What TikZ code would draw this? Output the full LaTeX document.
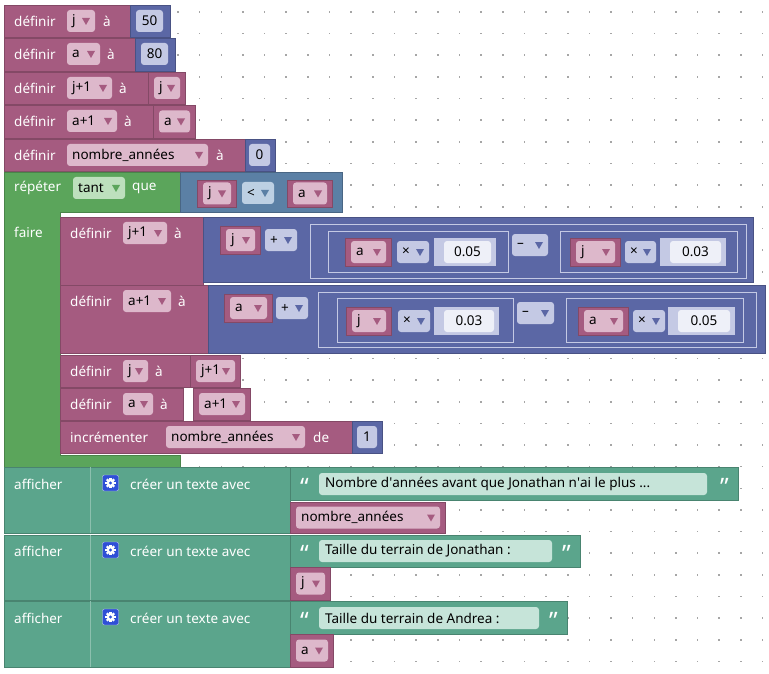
\documentclass[tikz,border=0pt]{standalone}
\usepackage{fontspec}
\setmainfont{Noto Sans}
\definecolor{pinkB}{HTML}{A55B80}
\definecolor{pinkF}{HTML}{DDB8CB}
\definecolor{mathB}{HTML}{5B67A5}
\definecolor{mathF}{HTML}{C4C9E4}
\definecolor{numW}{HTML}{EEF0F8}
\definecolor{logB}{HTML}{5B80A5}
\definecolor{logF}{HTML}{BDD0E3}
\definecolor{grnB}{HTML}{5BA55B}
\definecolor{grnF}{HTML}{BDE0BD}
\definecolor{txtB}{HTML}{5BA58C}
\definecolor{txtF}{HTML}{C6E4D9}
\definecolor{gear}{HTML}{2F4FD6}
\tikzset{
 blk/.style={fill=#1, draw=#1!80!black, line width=0.6pt},
 fld/.style={fill=#1, rounded corners=3pt},
 wt/.style={text=white, anchor=west, font=\fontsize{13.5}{15}\selectfont, inner sep=0pt},
 bt/.style={text=black, anchor=west, font=\fontsize{13.5}{15}\selectfont, inner sep=0pt},
 qt/.style={text=white, anchor=west, font=\fontsize{24}{24}\bfseries\selectfont, inner sep=0pt},
}
\newcommand\tri[3]{\fill[#1] (#2-4,#3-3)--(#2+4,#3-3)--(#2,#3+4)--cycle;}
\newcommand\dd[7]{\fill[fld=#1] (#3,#5-11) rectangle (#4,#5+11);
 \node[bt] (#7) at (#3+5,#5) {#6}; \tri{#2}{#4-9}{#5}}
\newcommand\pf[6]{\fill[fld=#1] (#2,#4-11) rectangle (#3,#4+11);
 \node[bt,anchor=center] (#6) at ({(#2+#3)/2},#4) {#5};}
\newcommand\vb[6]{\draw[blk=pinkB] (#1,#3) rectangle (#2,#4);
 \pgfmathsetmacro\ymid{(#3+#4)/2}%
 \dd{pinkF}{pinkB}{#1+6}{#2-5}{\ymid}{#5}{#6}}
\newcommand\op[5]{\dd{mathF}{mathB}{#1}{#2}{#3}{#4}{#5}}
\newcommand\nb[6]{\fill[mathF] (#1,#3) rectangle (#2,#4);
 \pgfmathsetmacro\ymid{(#3+#4)/2}%
 \pf{numW}{#1+10}{#2-5}{\ymid}{#5}{#6}}
\newcommand\gearicon[2]{\fill[gear,draw=white!70!gear,rounded corners=2pt] (#1-8,#2-8) rectangle (#1+8,#2+8);
 \foreach \a in {0,45,...,315}{\fill[white,rotate around={\a:(#1,#2)}] (#1-1.2,#2-5.2) rectangle (#1+1.2,#2-3);}
 \fill[white] (#1,#2) circle (3.8); \fill[gear] (#1,#2) circle (1.6);}
\begin{document}
\begin{tikzpicture}[x=1pt,y=-1pt]
\useasboundingbox (0,0) rectangle (769,674);
\fill[white] (0,0) rectangle (769,674);
\foreach \i in {0,...,27}{\foreach \k in {0,...,31}{
 \fill[gray!70] ({178+21.65*\i-0.8},{12+21.65*\k-0.8}) rectangle ++(1.6,1.6);}}
\draw[blk=pinkB] (4,5) rectangle (130,37); \node[wt] (d1) at (14,21) {définir};
\dd{pinkF}{pinkB}{67}{95}{21}{j}{f1}\node[wt] (a1) at (103,21) {à};
\draw[blk=mathB] (130,5) rectangle (170,37); \pf{mathF}{136}{163}{21}{50}{n1}
\draw[blk=pinkB] (4,38) rectangle (135,71); \node[wt] (d2) at (14,54) {définir};
\dd{pinkF}{pinkB}{67}{100}{54}{a}{f2}\node[wt] (a2) at (107,54) {à};
\draw[blk=mathB] (135,38) rectangle (175,71); \pf{mathF}{141}{168}{54}{80}{n2}
\draw[blk=pinkB] (4,72) rectangle (185,104); \node[wt] (d3) at (14,88) {définir};
\dd{pinkF}{pinkB}{67}{112}{88}{j+1}{f3}\node[wt] (a3) at (119,88) {à};
\vb{148}{185}{72}{104}{j}{v3}
\draw[blk=pinkB] (4,105) rectangle (195,138); \node[wt] (d4) at (14,121) {définir};
\dd{pinkF}{pinkB}{67}{117}{121}{a+1}{f4}\node[wt] (a4) at (124,121) {à};
\vb{153}{195}{105}{138}{a}{v4}
\draw[blk=pinkB] (4,139) rectangle (245,171); \node[wt] (d5) at (14,155) {définir};
\dd{pinkF}{pinkB}{67}{208}{155}{nombre\_années}{f5}\node[wt] (a5) at (216,155) {à};
\draw[blk=mathB] (245,139) rectangle (275,171); \pf{mathF}{249}{270}{155}{0}{n5}
\draw[blk=grnB] (4,172)--(180,172)--(180,212)--(60,212)--(60,455)--(180,455)--(180,467)--(4,467)--cycle;
\node[wt] (rep) at (14,188) {répéter};
\dd{grnF}{grnB}{73}{125}{188}{tant}{tant}\node[wt] (que) at (132,188) {que};
\draw[blk=logB] (180,172) rectangle (342,212);
\vb{197}{236}{180}{207}{j}{cj}
\dd{logF}{logB}{242}{274}{193}{<}{lt}
\vb{287}{332}{180}{207}{a}{ca}
\node[wt] (faire) at (14,232) {faire};
\draw[blk=pinkB] (60,217) rectangle (203,285); \node[wt] (d6) at (70,233) {définir};
\dd{pinkF}{pinkB}{123}{167}{233}{j+1}{f6}\node[wt] (a6) at (174,233) {à};
\draw[blk=mathB] (203,217) rectangle (753,282);
\vb{220}{260}{226}{254}{j}{e1j}
\op{265}{297}{240}{+}{e1p}
\draw[mathF] (310,224) rectangle (746,278);
\draw[mathF] (328,231) rectangle (508,272);
\vb{345}{391}{238}{266}{a}{e1a}
\op{397}{429}{252}{×}{e1x1}
\nb{434}{496}{238}{266}{0.05}{e1n1}
\op{512}{548}{245}{–}{e1m}
\draw[mathF] (560,231) rectangle (737,272);
\vb{570}{620}{238}{266}{j}{e1j2}
\op{625}{656}{252}{×}{e1x2}
\nb{660}{726}{238}{266}{0.03}{e1n2}
\draw[blk=pinkB] (60,285) rectangle (208,353); \node[wt] (d7) at (70,301) {définir};
\dd{pinkF}{pinkB}{123}{171}{301}{a+1}{f7}\node[wt] (a7) at (178,301) {à};
\draw[blk=mathB] (208,285) rectangle (765,353);
\vb{224}{272}{294}{322}{a}{e2a}
\op{276}{308}{308}{+}{e2p}
\draw[mathF] (318,292) rectangle (756,347);
\draw[mathF] (337,298) rectangle (513,342);
\vb{346}{391}{307}{335}{j}{e2j}
\op{398}{430}{321}{×}{e2x1}
\nb{434}{499}{307}{335}{0.03}{e2n1}
\op{517}{554}{313}{–}{e2m}
\draw[mathF] (566,298) rectangle (743,342);
\vb{578}{628}{307}{335}{a}{e2a2}
\op{633}{665}{321}{×}{e2x2}
\nb{668}{735}{307}{335}{0.05}{e2n2}
\draw[blk=pinkB] (60,355) rectangle (190,387); \node[wt] (d8) at (70,371) {définir};
\dd{pinkF}{pinkB}{123}{148}{371}{j}{f8}\node[wt] (a8) at (155,371) {à};
\vb{190}{240}{355}{387}{j+1}{v8}
\draw[blk=pinkB] (60,388) rectangle (183,420); \node[wt] (d9) at (70,404) {définir};
\dd{pinkF}{pinkB}{123}{153}{404}{a}{f9}\node[wt] (a9) at (160,404) {à};
\vb{193}{250}{388}{420}{a+1}{v9}
\draw[blk=pinkB] (60,421) rectangle (352,453); \node[wt] (inc) at (70,437) {incrémenter};
\dd{pinkF}{pinkB}{166}{305}{437}{nombre\_années}{f10}\node[wt] (de) at (313,437) {de};
\draw[blk=mathB] (352,421) rectangle (382,453); \pf{mathF}{357}{377}{437}{1}{n10}
\draw[blk=txtB] (4,467) rectangle (290,533); \draw[txtB!70!white] (90,467)--(90,533);
\node[wt] (af1) at (14,484) {afficher};
\gearicon{110.5}{483}
\node[wt] (cr1) at (130,484) {créer un texte avec};
\draw[blk=txtB] (290,467) rectangle (738,500);
\node[qt] (q1) at (300,487) {“}; \node[qt] (q1b) at (720,487) {”};
\fill[fld=txtF] (319,473) rectangle (707,495); \node[bt] (s1) at (325,484) {Nombre d\textquotesingle années avant que Jonathan n\textquotesingle ai le plus ...};
\vb{290}{445}{502}{533}{nombre\_années}{w1}
\draw[blk=txtB] (4,535) rectangle (290,600); \draw[txtB!70!white] (90,535)--(90,600);
\node[wt] (af2) at (14,551) {afficher};
\gearicon{110.5}{550}
\node[wt] (cr2) at (130,551) {créer un texte avec};
\draw[blk=txtB] (290,535) rectangle (580,567);
\node[qt] (q2) at (300,554) {“}; \node[qt] (q2b) at (562,554) {”};
\fill[fld=txtF] (319,540) rectangle (552,562); \node[bt] (s2) at (325,551) {Taille du terrain de Jonathan :};
\vb{290}{330}{567}{600}{j}{w2}
\draw[blk=txtB] (4,601) rectangle (290,667); \draw[txtB!70!white] (90,601)--(90,667);
\node[wt] (af3) at (14,618) {afficher};
\gearicon{110.5}{617}
\node[wt] (cr3) at (130,618) {créer un texte avec};
\draw[blk=txtB] (290,601) rectangle (567,634);
\node[qt] (q3) at (300,621) {“}; \node[qt] (q3b) at (549,621) {”};
\fill[fld=txtF] (319,607) rectangle (539,629); \node[bt] (s3) at (325,618) {Taille du terrain de Andrea :};
\vb{290}{333}{634}{667}{a}{w3}
\end{tikzpicture}
\end{document}
